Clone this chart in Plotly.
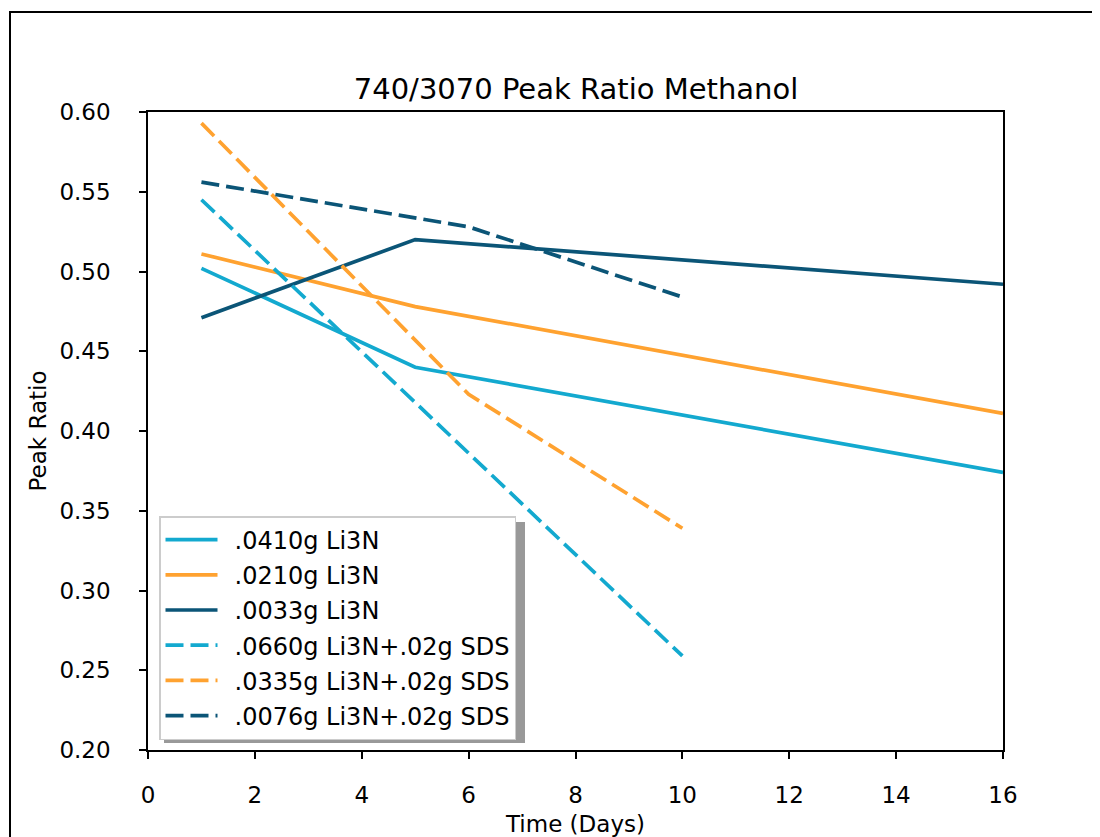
import plotly.graph_objects as go

names = [".0410g Li3N", ".0210g Li3N", ".0033g Li3N",
         ".0660g Li3N+.02g SDS", ".0335g Li3N+.02g SDS", ".0076g Li3N+.02g SDS"]
x_solid = [1, 5, 16]
y_0410 = [0.502, 0.440, 0.374]
y_0210 = [0.511, 0.478, 0.411]
y_0033 = [0.471, 0.520, 0.492]
x_dash = [1, 6, 10]
y_0660 = [0.545, 0.386, 0.259]
y_0335 = [0.593, 0.423, 0.339]
y_0076 = [0.556, 0.528, 0.484]
x_ticks = [0, 2, 4, 6, 8, 10, 12, 14, 16]
y_ticks = [0.20, 0.25, 0.30, 0.35, 0.40, 0.45, 0.50, 0.55, 0.60]

c_light = "#13A9CF"
c_orange = "#FFA230"
c_dark = "#0B5577"

FONT = "DejaVu Sans"
W, H = 1092, 829
L, T = 140, 104
PW, PH = 855, 638

fig = go.Figure()
DASH = "18px,7px"
series = [
    (x_solid, y_0410, c_light, "solid"),
    (x_solid, y_0210, c_orange, "solid"),
    (x_solid, y_0033, c_dark, "solid"),
    (x_dash, y_0660, c_light, DASH),
    (x_dash, y_0335, c_orange, DASH),
    (x_dash, y_0076, c_dark, DASH),
]
for i, (xs, ys, c, d) in enumerate(series):
    fig.add_trace(go.Scatter(x=xs, y=ys, mode="lines", name="\u2002" + names[i],
                             legendgroup=str(i),
                             line=dict(color=c, width=3.7, dash=d)))

axis_common = dict(showgrid=False, zeroline=False, showline=True, linecolor="black",
                   linewidth=1.5, mirror=True, ticks="outside", ticklen=7,
                   tickcolor="black", tickwidth=1.5, automargin=False,
                   tickfont=dict(family=FONT, size=23, color="black"))
fig.update_xaxes(range=[0, 16], tickvals=x_ticks, ticktext=[str(v) for v in x_ticks],
                 title=dict(text="Time (Days)", font=dict(family=FONT, size=23, color="black"),
                            standoff=10),
                 ticklabelstandoff=17, **axis_common)
fig.update_yaxes(range=[0.20, 0.60], tickvals=y_ticks, ticktext=[f"{v:.2f}" for v in y_ticks],
                 title=dict(text="Peak Ratio", font=dict(family=FONT, size=23, color="black"),
                            standoff=6),
                 ticklabelstandoff=24, **axis_common)


def px_x(p):  # page pixel -> paper x
    return (p - 8 - L) / PW


def px_y(p):  # page pixel -> paper y
    return (T + PH - (p - 8)) / PH


fig.update_layout(
    width=W, height=H,
    margin=dict(l=L, r=W - L - PW, t=T, b=H - T - PH),
    paper_bgcolor="white", plot_bgcolor="white",
    title=dict(text="740/3070 Peak Ratio Methanol", x=px_x(576), xanchor="center",
               xref="paper", y=1 - (89 - 8) / H, yanchor="middle",
               font=dict(family=FONT, size=29, color="black")),
    legend=dict(x=px_x(159), y=px_y(516), xanchor="left", yanchor="top",
                bgcolor="white", bordercolor="#cccccc", borderwidth=1.5,
                font=dict(family=FONT, size=24, color="black"),
                tracegroupgap=1, traceorder="grouped", itemwidth=52),
    showlegend=True,
)
# legend shadow
fig.add_shape(type="rect", xref="paper", yref="paper",
              x0=px_x(164), x1=px_x(525), y0=px_y(743), y1=px_y(522),
              fillcolor="#999999", line=dict(width=0), layer="above")
# outer frame
fig.add_shape(type="rect", xref="paper", yref="paper",
              x0=px_x(10), x1=px_x(1093), y0=px_y(870), y1=px_y(12),
              line=dict(color="black", width=2), fillcolor="rgba(0,0,0,0)", layer="below")

fig.write_html("out.html")
